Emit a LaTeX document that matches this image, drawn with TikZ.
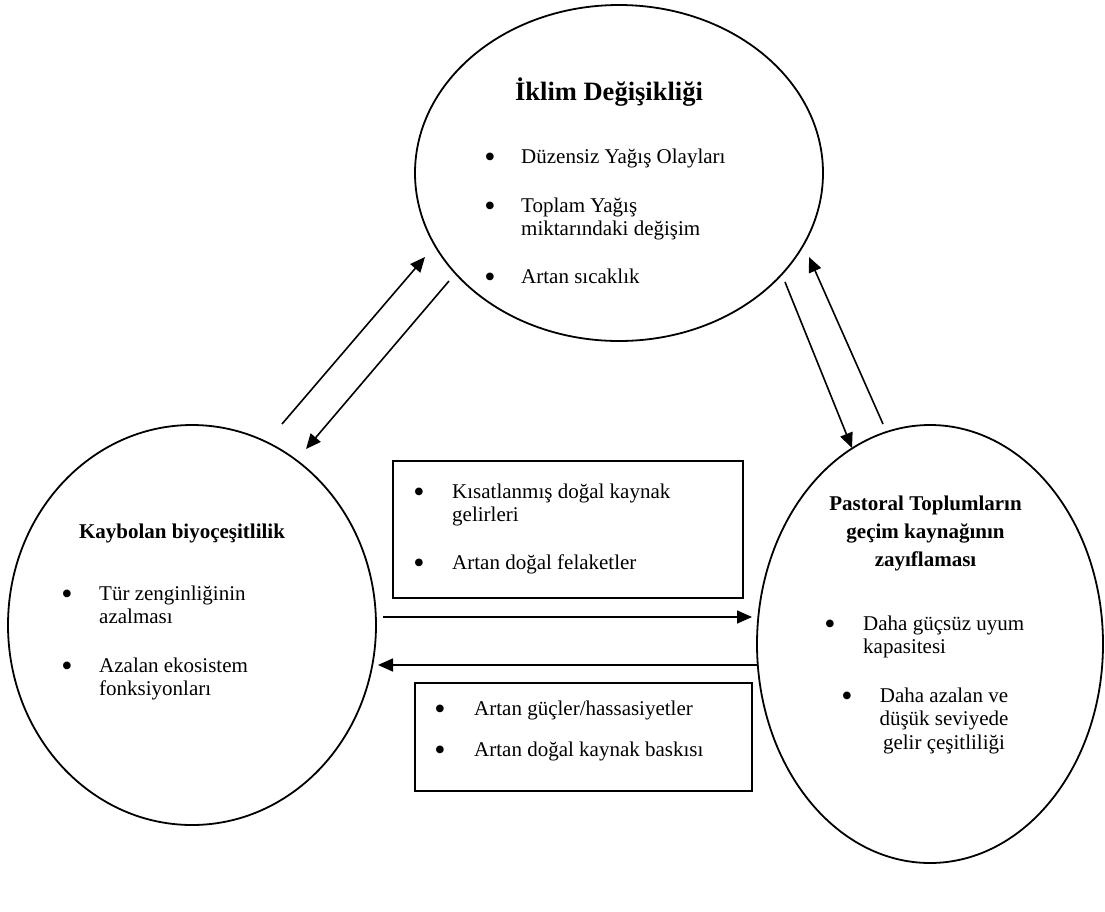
\documentclass[tikz,border=0pt]{standalone}
\usepackage{fontspec}
\setmainfont{Liberation Serif}
\usetikzlibrary{shapes.geometric,arrows.meta}
\newcommand\mylines[1]{\begin{tabular}[t]{@{}l@{}}#1\end{tabular}}
\newcommand\mylinesc[1]{\begin{tabular}[t]{@{}c@{}}#1\end{tabular}}
\begin{document}
\begin{tikzpicture}[x=1pt,y=-1pt,
  bubble/.style={draw,ellipse,line width=1.8pt,inner sep=0pt},
  box/.style={draw,line width=1.6pt,inner sep=0pt},
  arr/.style={line width=1.6pt,-{Triangle[length=15pt,width=13pt]}},
  txt/.style={inner sep=0pt,anchor=base west,font=\fontsize{21}{23}\selectfont},
  ctxt/.style={inner sep=0pt,anchor=base,font=\fontsize{21}{23.5}\selectfont},
  ttl/.style={inner sep=0pt,anchor=base,font=\fontsize{21}{28.3}\selectfont\bfseries},
  bigttl/.style={inner sep=0pt,anchor=base,font=\fontsize{26.5}{30}\selectfont\bfseries},
  bul/.style={inner sep=0pt,anchor=base,yshift=-4pt,font=\fontsize{32}{32}\selectfont}]
\useasboundingbox (0,0) rectangle (1105,911);

% ellipses
\node[bubble,minimum width=408pt,minimum height=336pt] (clim) at (619,173) {};
\node[bubble,minimum width=368pt,minimum height=400pt] (bio) at (192,625) {};
\node[bubble,minimum width=346pt,minimum height=438pt] (past) at (930,644) {};

% boxes
\node[box,minimum width=350pt,minimum height=137pt] (boxA) at (568,529.5) {};
\node[box,minimum width=337pt,minimum height=108pt] (boxB) at (583.5,737) {};

% top ellipse text
\node[bigttl] (climT) at (609,100) {İklim Değişikliği};
\node[bul] (cb1) at (490,163) {•};
\node[txt] (ct1) at (521,163) {Düzensiz Yağış Olayları};
\node[bul] (cb2) at (490,212) {•};
\node[txt] (ct2) at (521,212) {\mylines{Toplam Yağış\\miktarındaki değişim}};
\node[bul] (cb3) at (490,283) {•};
\node[txt] (ct3) at (521,283) {Artan sıcaklık};

% left ellipse text
\node[ttl] (bioT) at (182,538) {Kaybolan biyoçeşitlilik};
\node[bul] (bb1) at (67,600) {•};
\node[txt] (bt1) at (99,600) {\mylines{Tür zenginliğinin\\azalması}};
\node[bul] (bb2) at (67,672) {•};
\node[txt] (bt2) at (99,672) {\mylines{Azalan ekosistem\\fonksiyonları}};

% right ellipse text
\node[ttl] (pastT) at (925.5,510) {\mylinesc{Pastoral Toplumların\\geçim kaynağının\\zayıflaması}};
\node[bul] (pb1) at (830,630) {•};
\node[txt] (pt1) at (863,630) {\mylines{Daha güçsüz uyum\\kapasitesi}};
\node[bul] (pb2) at (847,702) {•};
\node[ctxt] (pt2) at (944,702) {\mylinesc{Daha azalan ve\\düşük seviyede\\gelir çeşitliliği}};

% box texts
\node[bul] (ab1) at (419,498) {•};
\node[txt] (at1) at (452,498) {\mylines{Kısatlanmış doğal kaynak\\gelirleri}};
\node[bul] (ab2) at (419,569) {•};
\node[txt] (at2) at (452,569) {Artan doğal felaketler};
\node[bul] (bbx1) at (440,715) {•};
\node[txt] (bx1) at (474,715) {Artan güçler/hassasiyetler};
\node[bul] (bbx2) at (440,756) {•};
\node[txt] (bx2) at (474,756) {Artan doğal kaynak baskısı};

% arrow end points
\coordinate (a1s) at (282,424);
\coordinate (a1e) at (425,257);
\coordinate (a2s) at (449,281);
\coordinate (a2e) at (306,449);
\coordinate (a3s) at (785,282);
\coordinate (a3e) at (852,448);
\coordinate (a4s) at (883,424);
\coordinate (a4e) at (809,257);
\coordinate (h1s) at (383,617);
\coordinate (h1e) at (752,617);
\coordinate (h2s) at (757,665);
\coordinate (h2e) at (378,665);

\draw[arr] (a1s) -- (a1e);
\draw[arr] (a2s) -- (a2e);
\draw[arr] (a3s) -- (a3e);
\draw[arr] (a4s) -- (a4e);
\draw[arr] (h1s) -- (h1e);
\draw[arr] (h2s) -- (h2e);
\end{tikzpicture}
\end{document}
